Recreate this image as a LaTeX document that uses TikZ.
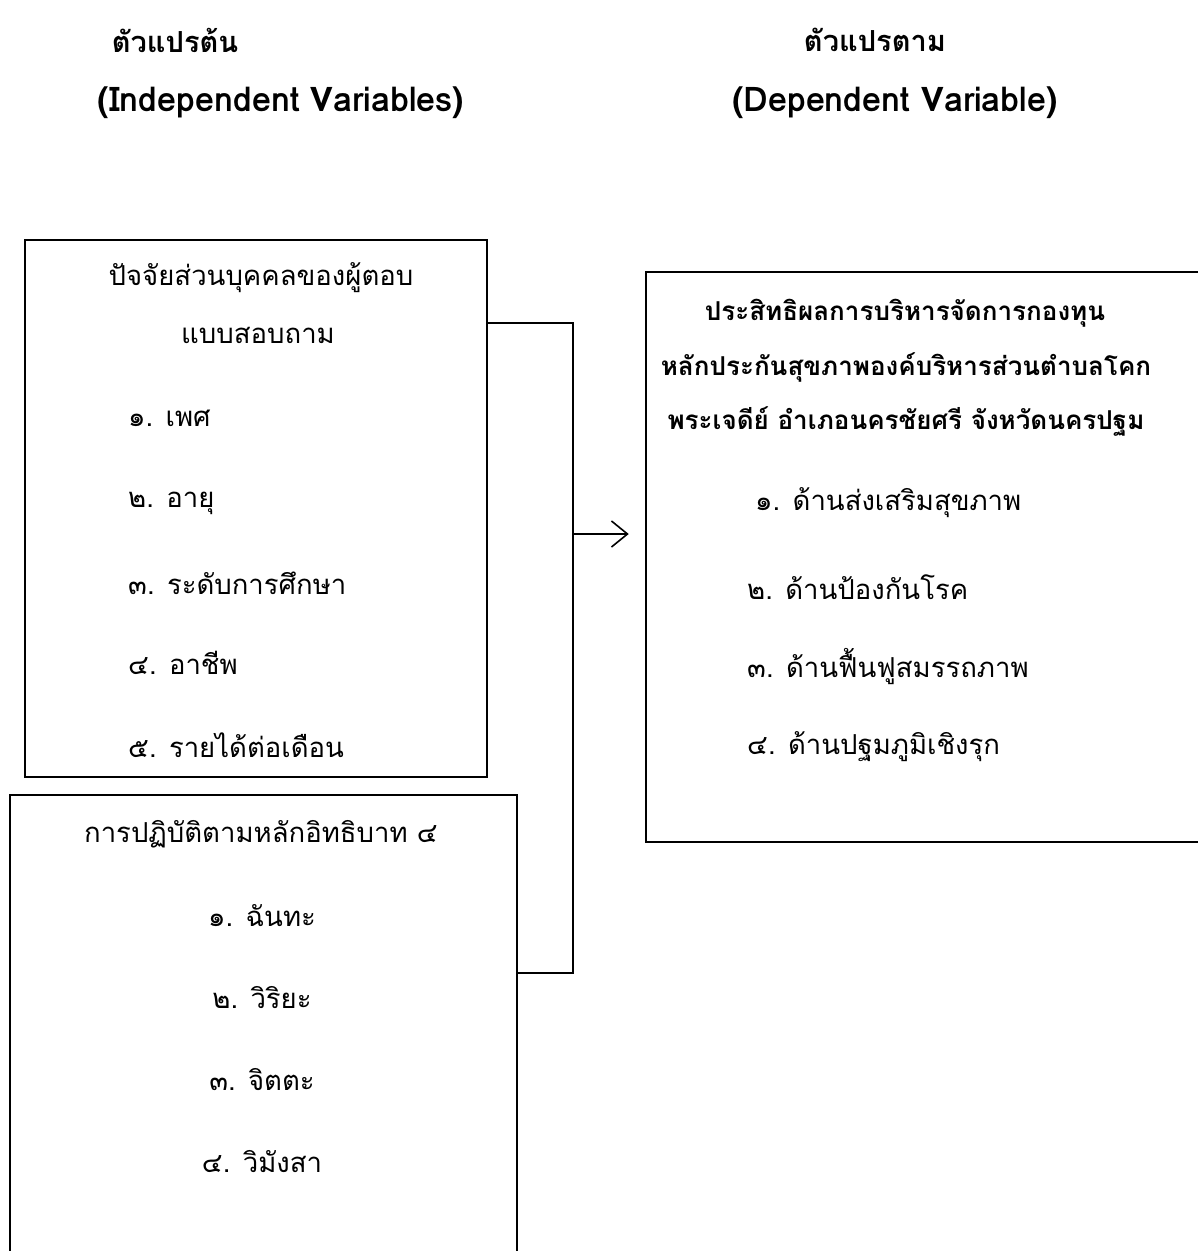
\documentclass[tikz,border=0pt]{standalone}
\usepackage{fontspec}
\setmainfont[Script=Thai]{Loma}
\usetikzlibrary{arrows.meta}
\tikzset{
  frame/.style={draw=black, line width=2.5pt, inner sep=0pt},
  conn/.style={draw=black, line width=1.6pt},
  txt/.style={inner sep=0pt, font=\fontsize{27.5}{32}\selectfont},
  head/.style={inner sep=0pt, font=\fontsize{29}{34}\selectfont\bfseries},
  headlat/.style={inner sep=0pt, font=\fontsize{34}{40}\selectfont\bfseries},
  title/.style={inner sep=0pt, font=\fontsize{26}{30}\selectfont\bfseries},
  item/.style={txt, anchor=west},
}
\begin{document}
\begin{tikzpicture}[x=1pt,y=-1pt]
\useasboundingbox (0,0) rectangle (1198,1251);
\clip (0,0) rectangle (1198,1251);
% headers
\node[head] (h1) at (175,40) {ตัวแปรต้น};
\node[headlat] (h2) at (281,103) {(Independent Variables)};
\node[head] (h3) at (875,40) {ตัวแปรตาม};
\node[headlat] (h4) at (895,103) {(Dependent Variable)};
% boxes
\node[frame, minimum width=462pt, minimum height=537pt] (b1) at (256,508.5) {};
\node[frame, minimum width=507pt, minimum height=560pt] (b2) at (263.5,1075) {};
\node[frame, minimum width=600pt, minimum height=570pt] (b3) at (946,557) {};
% box 1 texts
\node[txt] (t11) at (261,278) {ปัจจัยส่วนบุคคลของผู้ตอบ};
\node[txt] (t12) at (258,335) {แบบสอบถาม};
\node[item] (t13) at (128,418) {๑. เพศ};
\node[item] (t14) at (128,503) {๒. อายุ};
\node[item] (t15) at (128,583) {๓. ระดับการศึกษา};
\node[item] (t16) at (128,663) {๔. อาชีพ};
\node[item] (t17) at (128,745) {๕. รายได้ต่อเดือน};
% box 2 texts
\node[txt] (t21) at (261,834) {การปฏิบัติตามหลักอิทธิบาท ๔};
\node[txt] (t22) at (262,916) {๑. ฉันทะ};
\node[txt] (t23) at (262,998) {๒. วิริยะ};
\node[txt] (t24) at (262,1080) {๓. จิตตะ};
\node[txt] (t25) at (262,1162) {๔. วิมังสา};
% box 3 texts
\node[title] (t31) at (905,313) {ประสิทธิผลการบริหารจัดการกองทุน};
\node[title] (t32) at (906,367) {หลักประกันสุขภาพองค์บริหารส่วนตำบลโคก};
\node[title] (t33) at (906,422) {พระเจดีย์ อำเภอนครชัยศรี จังหวัดนครปฐม};
\node[item] (t34) at (755,503) {๑. ด้านส่งเสริมสุขภาพ};
\node[item] (t35) at (747,587) {๒. ด้านป้องกันโรค};
\node[item] (t36) at (747,667) {๓. ด้านฟื้นฟูสมรรถภาพ};
\node[item] (t37) at (747,747) {๔. ด้านปฐมภูมิเชิงรุก};
% connectors
\coordinate (ja) at (573,323);
\coordinate (jb) at (573,973);
\coordinate (jc) at (573,534);
\draw[conn] (b1.east |- ja) -- (ja) -- (jb) -- (b2.east |- jb);
\draw[conn, -{Straight Barb[length=16pt,width=26pt]}] (jc) -- ([xshift=-16pt]b3.west |- jc);
\end{tikzpicture}
\end{document}
